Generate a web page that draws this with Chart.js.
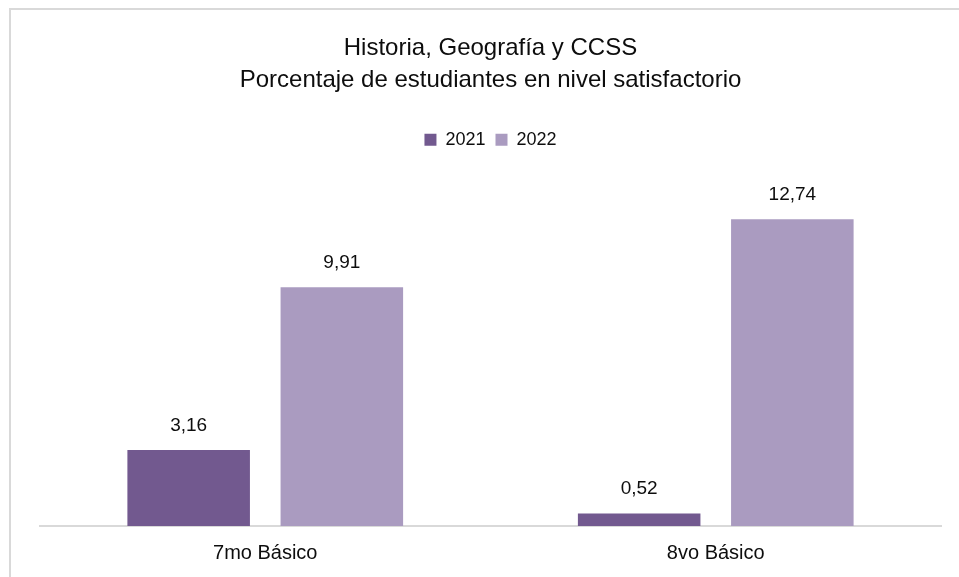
<!DOCTYPE html>
<html>
<head>
<meta charset="utf-8">
<script src="https://cdn.jsdelivr.net/npm/chart.js@4"></script>
<style>
  html, body { margin: 0; padding: 0; background: #fff; }
  #wrap { width: 959px; height: 577px; }
</style>
</head>
<body>
<div id="wrap"><canvas id="grafica"></canvas></div>
<script>
// Datos del grafico
const categorias = ['7mo Básico', '8vo Básico'];
const anios = ['2021', '2022'];
const valores2021 = [3.16, 0.52];
const valores2022 = [9.91, 12.74];

const fuente = "'Liberation Sans Narrow', 'Arial Narrow', 'Liberation Sans', sans-serif";

// Borde gris del recuadro (arriba e izquierda)
const bordePlugin = {
  id: 'borde',
  beforeDraw(chart) {
    const ctx = chart.ctx;
    ctx.save();
    ctx.fillStyle = '#fff';
    ctx.fillRect(0, 0, chart.width, chart.height);
    ctx.strokeStyle = '#d9d9d9';
    ctx.lineWidth = 2;
    ctx.beginPath();
    ctx.moveTo(10, chart.height);
    ctx.lineTo(10, 9);
    ctx.lineTo(chart.width, 9);
    ctx.stroke();
    ctx.restore();
  }
};

// Etiquetas de valor sobre cada barra
const etiquetasPlugin = {
  id: 'etiquetas',
  afterDatasetsDraw(chart) {
    const ctx = chart.ctx;
    ctx.save();
    ctx.font = '19px ' + fuente;
    ctx.fillStyle = '#0d0d0d';
    ctx.textAlign = 'center';
    ctx.textBaseline = 'alphabetic';
    chart.data.datasets.forEach((ds, i) => {
      chart.getDatasetMeta(i).data.forEach((bar, j) => {
        const txt = ds.data[j].toFixed(2).replace('.', ',');
        ctx.fillText(txt, bar.x, bar.y - 19);
      });
    });
    ctx.restore();
  }
};

// Espacio extra bajo la leyenda
const margenLeyenda = {
  id: 'margenLeyenda',
  beforeInit(chart) {
    const fit = chart.legend.fit;
    chart.legend.fit = function () {
      fit.bind(chart.legend)();
      this.height += 30;
    };
  }
};

const chart = new Chart(document.getElementById('grafica'), {
  type: 'bar',
  data: {
    labels: categorias,
    datasets: [
      {
        label: anios[0],
        data: valores2021,
        backgroundColor: '#72598f',
        categoryPercentage: 0.68,
        barPercentage: 0.8,
      },
      {
        label: anios[1],
        data: valores2022,
        backgroundColor: '#aa9bc0',
        categoryPercentage: 0.68,
        barPercentage: 0.8,
      }
    ]
  },
  options: {
    responsive: true,
    maintainAspectRatio: false,
    animation: false,
    layout: { padding: { left: 40, right: 18, top: 0, bottom: 0 } },
    plugins: {
      title: {
        display: true,
        text: ['Historia, Geografía y CCSS', 'Porcentaje de estudiantes en nivel satisfactorio'],
        color: '#0d0d0d',
        font: { family: fuente, size: 24, weight: 'normal', lineHeight: 1.35 },
        padding: { top: 32, bottom: 24 }
      },
      legend: {
        display: true,
        labels: {
          color: '#0d0d0d',
          font: { family: fuente, size: 18 },
          boxWidth: 12,
          boxHeight: 12,
          padding: 10
        }
      },
      tooltip: { enabled: false }
    },
    scales: {
      x: {
        grid: { display: false, drawTicks: false },
        border: { display: true, color: '#d9d9d9', width: 2 },
        ticks: { color: '#0d0d0d', font: { family: fuente, size: 20 }, padding: 15 },
        afterFit(scale) { scale.height = 51; }
      },
      y: {
        display: false,
        min: 0,
        max: 14
      }
    }
  },
  plugins: [bordePlugin, etiquetasPlugin, margenLeyenda]
});
</script>
</body>
</html>
